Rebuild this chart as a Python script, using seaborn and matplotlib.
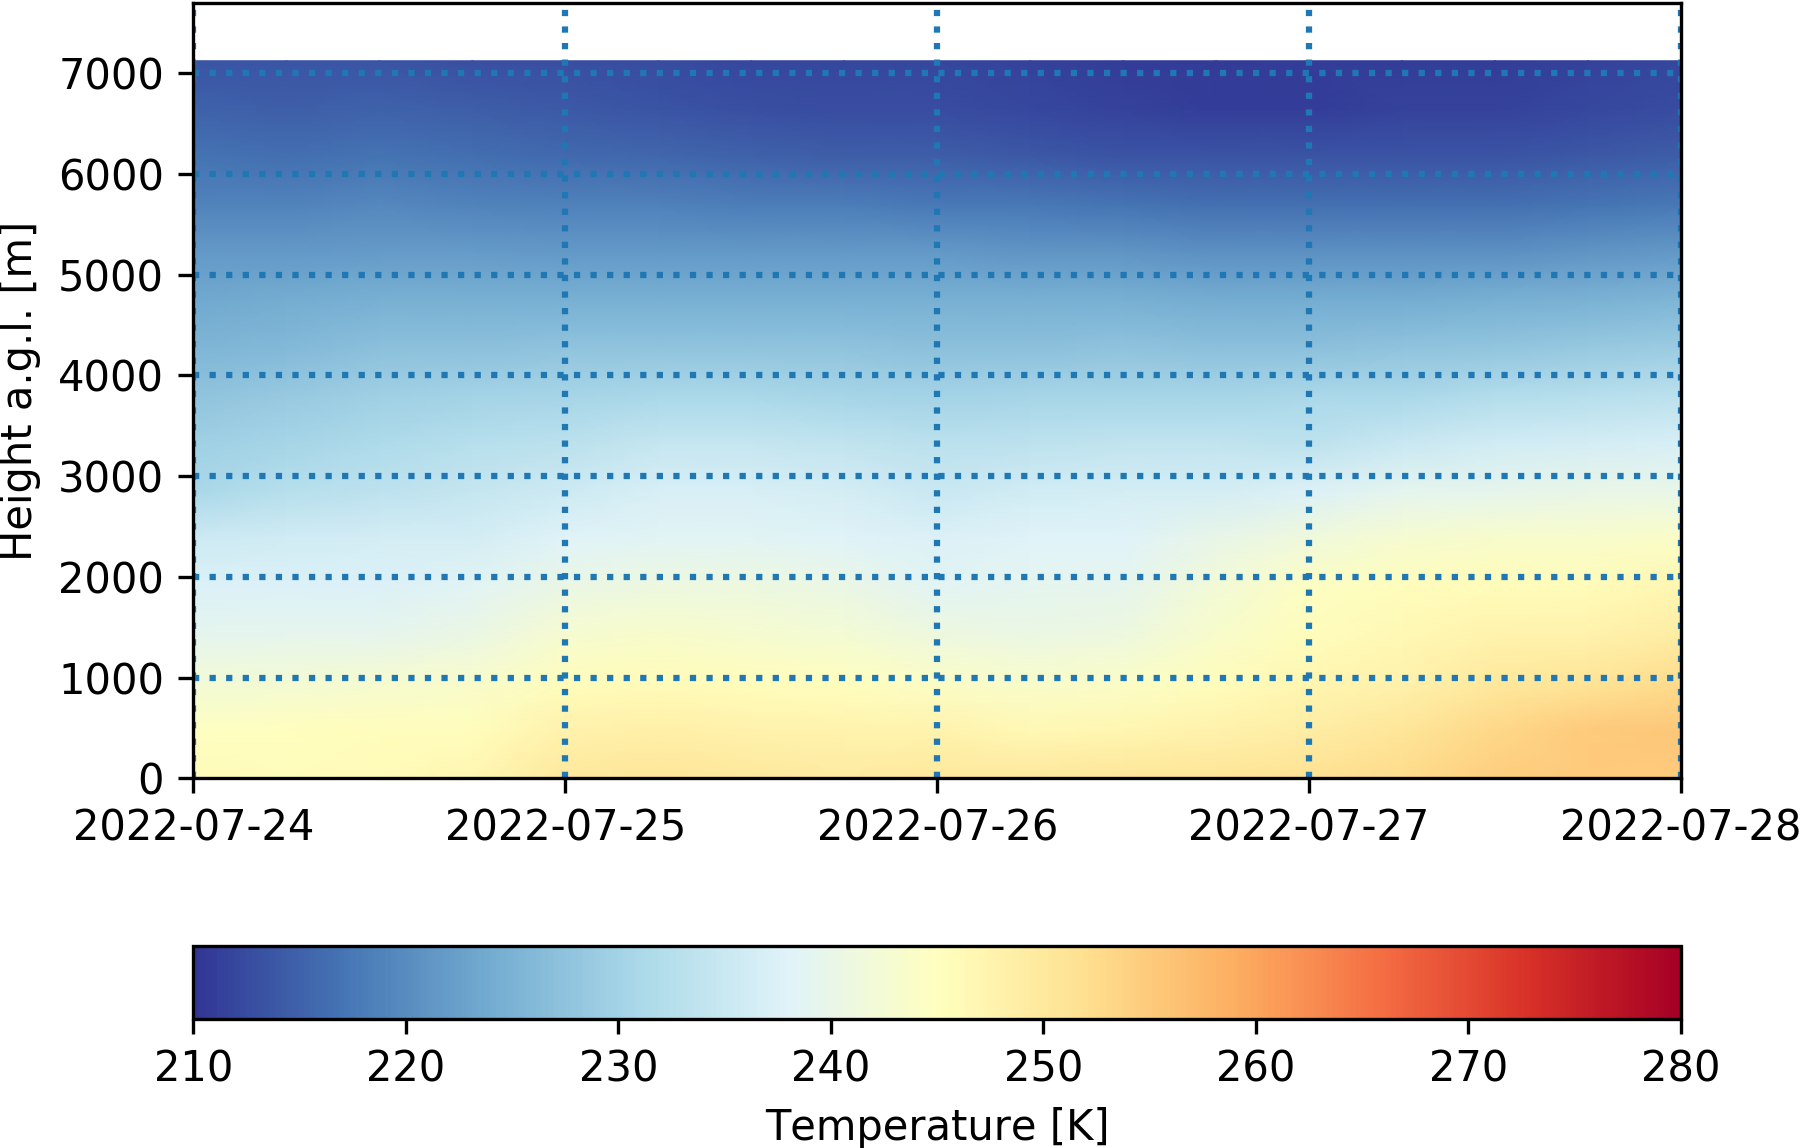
import matplotlib
matplotlib.use("Agg")
import matplotlib.pyplot as plt
import numpy as np
import pandas as pd
import seaborn as sns

plt.rcParams['text.kerning_factor'] = 6

# time axis, one column every 6 hours
TIME_STEPS_PER_DAY = 4
DAY_LABELS = ['2022-07-24', '2022-07-25', '2022-07-26', '2022-07-27', '2022-07-28']
HEIGHT_TICKS = [0, 1000, 2000, 3000, 4000, 5000, 6000, 7000]
CBAR_TICKS = [210, 220, 230, 240, 250, 260, 270, 280]

# height of each row [m]
HEIGHTS = [0, 475, 950, 1425, 1900, 2375, 2850, 3325, 3800, 4275, 4750, 5225, 5700, 6175, 6650, 7125]

# temperature [K], one list per height
T_0000 = [246, 245.5, 246, 247, 250, 250.5, 250, 249.5, 250, 250, 250.5, 251, 251.5, 252.5, 254.5, 255, 255]
T_0475 = [244.5, 245, 245.5, 245.5, 248, 248.5, 248, 247.5, 247.5, 246.5, 247, 248, 249, 250.5, 253, 255, 255.5]
T_0950 = [242, 242.5, 243, 243.5, 245.5, 246, 245.5, 245, 244, 243.5, 244, 245.5, 247, 248, 250, 251, 252.5]
T_1425 = [239, 239.5, 239.5, 240.5, 243, 243.5, 243, 242.5, 241, 240.5, 241, 243.5, 245.5, 246.5, 247.5, 248, 249]
T_1900 = [237.5, 237.5, 237.5, 238.5, 240.5, 241, 241, 240.5, 238.5, 239, 239.5, 242, 244.5, 245.5, 246, 246, 247]
T_2375 = [235.5, 236, 236.5, 236.5, 238, 238.5, 238.5, 238, 237.5, 238, 238, 240, 241.5, 243, 243.5, 243.5, 244]
T_2850 = [231, 232.5, 233.5, 234.5, 235.5, 237, 237, 236.5, 235, 236, 236.5, 236.5, 237.5, 239, 239.5, 240, 240]
T_3325 = [229.5, 230.5, 231.5, 232.5, 233, 234.5, 234.5, 234, 233, 233.5, 234, 234, 233.5, 235, 236, 236.5, 237]
T_3800 = [227.5, 228.5, 229.5, 230, 230.5, 231, 231, 230.5, 230, 230.5, 230.5, 230.5, 231, 231, 232, 232.5, 233]
T_4275 = [225.5, 226, 227, 227, 227.5, 227.5, 227.5, 227.5, 227, 227, 227.5, 227, 227, 227.5, 228, 228.5, 229]
T_4750 = [223.5, 224, 224.5, 224.5, 224.5, 224.5, 224.5, 224.5, 224.5, 224.5, 224.5, 224, 224, 224, 224.5, 225, 225.5]
T_5225 = [221.5, 221.5, 222, 222, 221.5, 221.5, 221.5, 221.5, 221.5, 221, 221, 220.5, 220.5, 220.5, 220.5, 221, 221.5]
T_5700 = [219, 219, 219.5, 219, 218.5, 218.5, 218, 218, 217.5, 217.5, 217, 216.5, 216.5, 216.5, 216.5, 217, 217.5]
T_6175 = [217, 216.5, 217, 216.5, 216, 215.5, 215, 214.5, 214.5, 214, 213.5, 213.5, 213.5, 213.5, 213.5, 214, 214.5]
T_6650 = [215, 214.5, 215, 214.5, 214, 213.5, 213, 212.5, 212.5, 212, 211.5, 211, 211, 211.5, 211.5, 212, 212.5]
T_7125 = [213.5, 213.5, 213.5, 213, 213, 212.5, 212, 212, 212, 211.5, 211, 210.8, 211, 211, 211, 211.5, 212]

rows = [T_0000, T_0475, T_0950, T_1425, T_1900, T_2375, T_2850, T_3325,
        T_3800, T_4275, T_4750, T_5225, T_5700, T_6175, T_6650, T_7125]
df = pd.DataFrame(rows, index=HEIGHTS)

W, H = 1800, 1148
fig = plt.figure(figsize=(W / 300, H / 300), dpi=300)
ax = fig.add_axes([193.4 / W, 1 - 778.3 / H, (1681 - 193.4) / W, (778.3 - 2.5) / H])
cax = fig.add_axes([193.4 / W, 1 - 1019.3 / H, (1681 - 193.4) / W, (1019.3 - 945.7) / H])

# gouraud shading gives the smooth look of the original field
sns.heatmap(df, ax=ax, cmap='RdYlBu_r', vmin=210, vmax=280, cbar=False,
            xticklabels=False, yticklabels=False, shading='gouraud')
mesh = ax.collections[0]

# heatmap works in row/column numbers, so convert the ticks
dh = HEIGHTS[1] - HEIGHTS[0]
ax.set_xlim(0, df.shape[1] - 1)
ax.set_ylim(0, 7703 / dh)
ax.set_xticks(np.arange(len(DAY_LABELS)) * TIME_STEPS_PER_DAY)
ax.set_xticklabels(DAY_LABELS, rotation=0)
ax.set_yticks(np.array(HEIGHT_TICKS) / dh)
ax.set_yticklabels(HEIGHT_TICKS, rotation=0)
ax.set_ylabel('Height a.g.l. [m]')
ax.set_xlabel('')
ax.grid(True, color='C0', linestyle=':', linewidth=1.5)
ax.yaxis.get_gridlines()[0].set_visible(False)  # no dots along the bottom spine
ax.tick_params(length=3.5, width=0.8)
for s in ax.spines.values():
    s.set_visible(True)
    s.set_linewidth(0.8)

cb = fig.colorbar(mesh, cax=cax, orientation='horizontal', label='Temperature [K]')
cb.set_ticks(CBAR_TICKS)

fig.savefig('out.png', dpi=300)
